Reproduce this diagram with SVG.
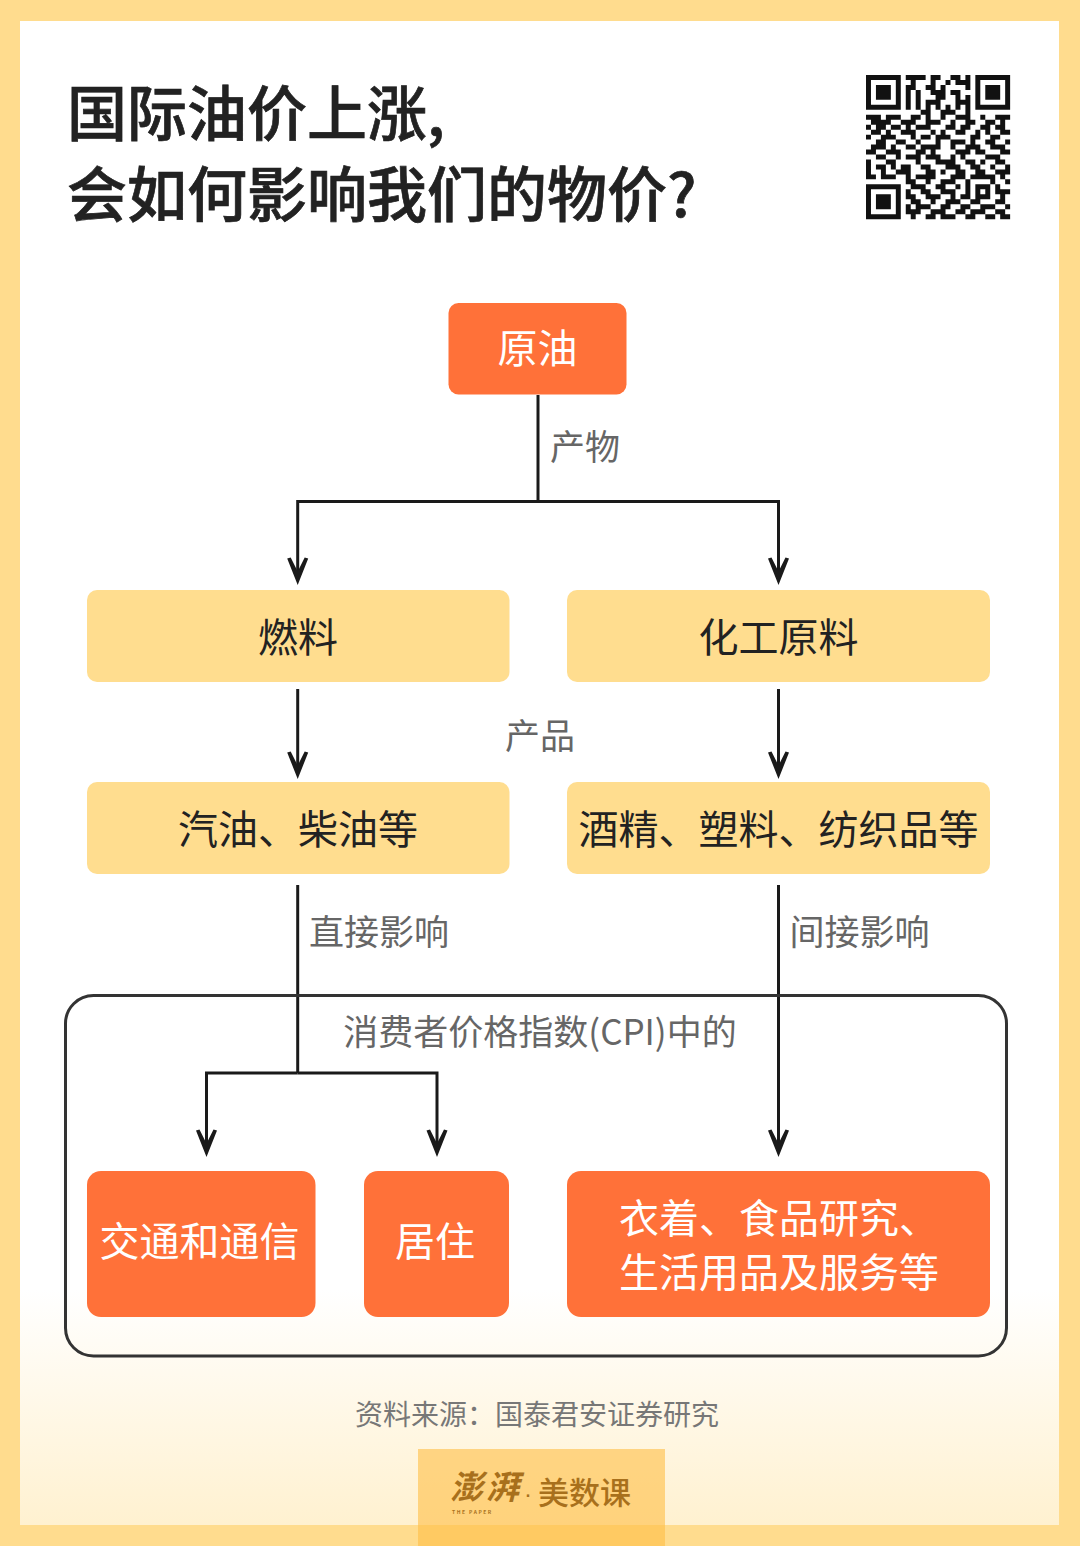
<svg xmlns="http://www.w3.org/2000/svg" width="1080" height="1546" viewBox="0 0 1080 1546">
<style>
text{font-family:"Noto Sans CJK SC","Noto Sans",sans-serif}
.title{font-size:60px;font-weight:500;fill:#222;stroke:#222;stroke-width:.7px}
.n{font-size:40px;text-anchor:middle;fill:#222}
.w{font-size:40px;fill:#fff}
.wm{text-anchor:middle}
.l{font-size:35px;fill:#666}
.y{fill:#ffdd8f}
.o{fill:#ff7139}
.c{fill:none;stroke:#1a1a1a;stroke-width:3}
</style>
<defs>
<linearGradient id="bg" x1="0" y1="0" x2="0" y2="1"><stop offset="0" stop-color="#fff"/><stop offset="1" stop-color="#fff1d0"/></linearGradient>
<marker id="a" markerUnits="userSpaceOnUse" markerWidth="30" markerHeight="24" refX="21" refY="12" orient="auto" overflow="visible"><path d="M28 12L1.500 1.500L0.500 5L14.500 12L0.500 19L1.500 22.500Z" fill="#1a1a1a"/></marker>
</defs>
<g id="background">
<rect width="1080" height="1546" fill="#ffdc8e"/>
<rect x="20" y="21" width="1039" height="1504" fill="#fff"/>
<rect x="20" y="1290" width="1039" height="235" fill="url(#bg)"/>
</g>
<g id="title">
<text class="title" x="67" y="136">国际油价上涨,</text>
<text class="title" x="67" y="217">会如何影响我们的物价?</text>
</g>
<g id="qr">
<path transform="translate(866 75) scale(4.97)" fill="none" stroke="#111" stroke-width="1" d="M0 .5h7M8 .5h4M13 .5h2M17 .5h2M20 .5h1M22 .5h7
M0 1.500h1M6 1.500h1M9 1.500h1M13 1.500h1M16 1.500h1M18 1.500h3M22 1.500h1M28 1.500h1
M0 2.500h1M2 2.500h3M6 2.500h1M8 2.500h2M12 2.500h2M15 2.500h1M20 2.500h1M22 2.500h1M24 2.500h3M28 2.500h1
M0 3.500h1M2 3.500h3M6 3.500h1M8 3.500h1M10 3.500h1M13 3.500h3M17 3.500h2M22 3.500h1M24 3.500h3M28 3.500h1
M0 4.500h1M2 4.500h3M6 4.500h1M8 4.500h1M10 4.500h1M14 4.500h2M18 4.500h1M20 4.500h1M22 4.500h1M24 4.500h3M28 4.500h1
M0 5.500h1M6 5.500h1M8 5.500h1M10 5.500h1M12 5.500h3M18 5.500h3M22 5.500h1M28 5.500h1
M0 6.500h7M8 6.500h1M10 6.500h1M12 6.500h1M14 6.500h1M16 6.500h1M18 6.500h1M20 6.500h1M22 6.500h7
M11 7.500h2M15 7.500h3M20 7.500h1
M0 8.500h3M4 8.500h3M9 8.500h2M12 8.500h1M15 8.500h1M18 8.500h3M23 8.500h1M26 8.500h3
M1 9.500h4M7 9.500h3M12 9.500h3M17 9.500h1M20 9.500h2M24 9.500h2M27 9.500h1
M0 10.500h1M2 10.500h2M5 10.500h2M8 10.500h1M10 10.500h3M16 10.500h2M19 10.500h2M23 10.500h2M26 10.500h2
M1 11.500h2M4 11.500h1M7 11.500h3M13 11.500h1M15 11.500h1M18 11.500h2M22 11.500h1M24 11.500h1M27 11.500h2
M0 12.500h1M3 12.500h3M9 12.500h1M11 12.500h2M14 12.500h3M21 12.500h2M25 12.500h2
M2 13.500h2M6 13.500h2M10 13.500h1M14 13.500h1M17 13.500h3M21 13.500h1M24 13.500h2M28 13.500h1
M1 14.500h3M5 14.500h1M8 14.500h2M11 14.500h4M17 14.500h1M20 14.500h3M25 14.500h3
M0 15.500h2M4 15.500h3M10 15.500h2M13 15.500h1M18 15.500h3M22 15.500h2M27 15.500h2
M2 16.500h2M6 16.500h1M8 16.500h3M12 16.500h3M17 16.500h1M19 16.500h1M24 16.500h3
M0 17.500h1M4 17.500h2M10 17.500h1M14 17.500h4M20 17.500h2M23 17.500h1M26 17.500h2
M0 18.500h1M2 18.500h2M5 18.500h1M7 18.500h2M11 18.500h2M16 18.500h3M21 18.500h2M25 18.500h1M28 18.500h1
M0 19.500h1M3 19.500h1M6 19.500h3M12 19.500h2M15 19.500h1M18 19.500h2M22 19.500h2M26 19.500h3
M0 20.500h2M3 20.500h3M8 20.500h1M10 20.500h4M17 20.500h3M21 20.500h5M27 20.500h1
M8 21.500h2M12 21.500h1M15 21.500h3M20 21.500h1M25 21.500h1M28 21.500h1
M0 22.500h7M9 22.500h3M14 22.500h2M18 22.500h1M20 22.500h1M22 22.500h3M26 22.500h1
M0 23.500h1M6 23.500h1M8 23.500h1M11 23.500h2M15 23.500h3M20 23.500h1M22 23.500h1M24 23.500h1M26 23.500h3
M0 24.500h1M2 24.500h3M6 24.500h1M8 24.500h2M12 24.500h3M17 24.500h1M19 24.500h2M22 24.500h3M27 24.500h1
M0 25.500h1M2 25.500h3M6 25.500h1M9 25.500h2M13 25.500h1M16 25.500h3M21 25.500h2M26 25.500h2
M0 26.500h1M2 26.500h3M6 26.500h1M8 26.500h1M10 26.500h3M15 26.500h2M19 26.500h2M23 26.500h3M28 26.500h1
M0 27.500h1M6 27.500h1M8 27.500h3M13 27.500h3M18 27.500h2M21 27.500h3M26 27.500h2
M0 28.500h7M9 28.500h1M12 28.500h2M15 28.500h3M20 28.500h2M24 28.500h2M27 28.500h2"/>
</g>
<g id="connectors">
<path class="c" d="M538 395V501.500"/>
<path class="c" d="M538 501.500H297.700V578" marker-end="url(#a)"/>
<path class="c" d="M538 501.500H778.500V578" marker-end="url(#a)"/>
<path class="c" d="M297.700 689V772" marker-end="url(#a)"/>
<path class="c" d="M778.500 689V772" marker-end="url(#a)"/>
<path class="c" d="M297.700 885V1073"/>
<path class="c" d="M297.700 1073H206.500V1150" marker-end="url(#a)"/>
<path class="c" d="M297.700 1073H437V1150" marker-end="url(#a)"/>
<path class="c" d="M778.500 885V1150" marker-end="url(#a)"/>
</g>
<g id="cpi-group">
<rect x="65.500" y="995.500" width="941" height="360.500" rx="28" fill="none" stroke="#333" stroke-width="3"/>
<text class="l" x="540" y="1045" text-anchor="middle">消费者价格指数(CPI)中的</text>
</g>
<g id="labels">
<text class="l" x="550" y="460">产物</text>
<text class="l" x="540" y="749" text-anchor="middle">产品</text>
<text class="l" x="309" y="945">直接影响</text>
<text class="l" x="789.500" y="945">间接影响</text>
</g>
<g id="node-crude"><rect class="o" x="448.500" y="303" width="178" height="91.500" rx="10"/><text class="w wm" x="537.500" y="363">原油</text></g>
<g id="node-fuel"><rect class="y" x="87" y="590" width="422.500" height="92" rx="10"/><text class="n" x="298" y="652">燃料</text></g>
<g id="node-chem"><rect class="y" x="567" y="590" width="423" height="92" rx="10"/><text class="n" x="778.500" y="652">化工原料</text></g>
<g id="node-gasoline"><rect class="y" x="87" y="782" width="422.500" height="92" rx="10"/><text class="n" x="298" y="844">汽油、柴油等</text></g>
<g id="node-alcohol"><rect class="y" x="567" y="782" width="423" height="92" rx="10"/><text class="n" x="778.500" y="844">酒精、塑料、纺织品等</text></g>
<g id="node-transport"><rect class="o" x="87" y="1171" width="228.500" height="146" rx="14"/><text class="w wm" x="199.500" y="1256">交通和通信</text></g>
<g id="node-housing"><rect class="o" x="364" y="1171" width="145" height="146" rx="14"/><text class="w wm" x="435" y="1256">居住</text></g>
<g id="node-other"><rect class="o" x="567" y="1171" width="423" height="146" rx="14"/><text class="w" x="619" y="1233">衣着、食品研究、</text><text class="w" x="619" y="1287">生活用品及服务等</text></g>
<g id="source"><text x="355" y="1425" font-size="28" fill="#777">资料来源&#xFF1A;国泰君安证券研究</text></g>
<g id="logo">
<rect x="418" y="1449" width="247" height="97" fill="#ffbe45" fill-opacity=".6"/>
<text x="450" y="1499" font-size="33" font-weight="700" letter-spacing="3" fill="#a8701c" font-style="italic">澎湃</text>
<text x="524" y="1502" font-size="24" fill="#a8701c" style="font-family:'Liberation Sans',sans-serif">·</text>
<text x="538" y="1504" font-size="31" font-weight="500" fill="#a8701c">美数课</text>
<text x="452" y="1514" font-size="5" font-weight="700" letter-spacing="1.500" fill="#a8701c">THE PAPER</text>
</g>
</svg>
